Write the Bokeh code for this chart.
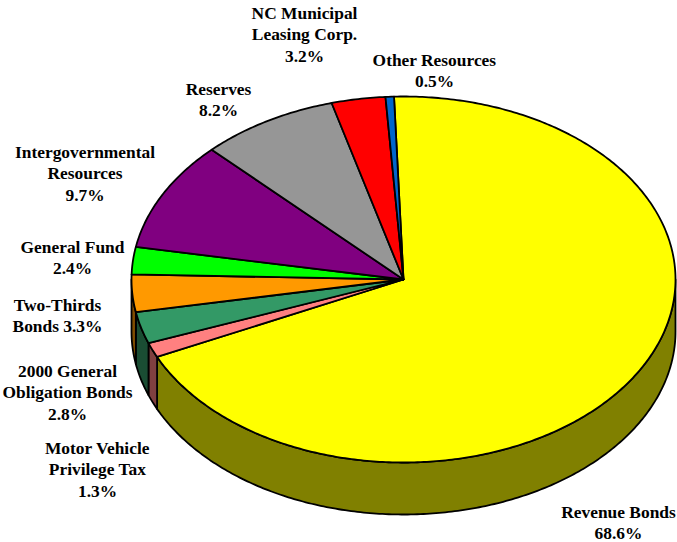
import numpy as np
from bokeh.plotting import figure
from bokeh.models import Range1d
from bokeh.core.properties import value
from bokeh.embed import file_html
from bokeh.resources import INLINE

categories = ["Revenue Bonds", "Motor Vehicle Privilege Tax", "2000 General Obligation Bonds",
              "Two-Thirds Bonds", "General Fund", "Intergovernmental Resources",
              "Reserves", "NC Municipal Leasing Corp.", "Other Resources"]
shares = [68.6, 1.3, 2.8, 3.3, 2.4, 9.7, 8.2, 3.2, 0.5]
top_colors = ["#FFFF00", "#FF8080", "#339966", "#FF9900", "#00FF00", "#800080", "#969696", "#FF0000", "#0066CC"]
side_colors = ["#808000", "#804040", "#1A4D33", "#804D00", "#008000", "#400040", "#4B4B4B", "#800000", "#003366"]

label_lines = [["Revenue Bonds", "68.6%"], ["Motor Vehicle", "Privilege Tax", "1.3%"],
               ["2000 General", "Obligation Bonds", "2.8%"], ["Two-Thirds", "Bonds 3.3%"],
               ["General Fund", "2.4%"], ["Intergovernmental", "Resources", "9.7%"],
               ["Reserves", "8.2%"], ["NC Municipal", "Leasing Corp.", "3.2%"],
               ["Other Resources", "0.5%"]]
label_x = [618, 97, 67, 57, 72, 84.5, 218, 304, 434]
label_y = [511, 447, 370, 304, 246, 151, 88, 12, 59]
LINE_H = 21.6

CX, CY, RX, RY, DEPTH = 403.0, 279.0, 272.0, 183.0, 52.0
START = -2.0

W, H = 677, 542
p = figure(width=W, height=H, output_backend="svg", toolbar_location=None,
           x_range=Range1d(0, W), y_range=Range1d(H, 0), margin=(0, 0, 0, 0),
           min_border=0, outline_line_color=None, background_fill_color="white", border_fill_color="white")
p.axis.visible = False
p.grid.visible = False


def arc(a0, a1):
    n = max(2, int(abs(a1 - a0) * 1.5) + 2)
    t = np.radians(np.linspace(a0, a1, n))
    return CX + RX * np.sin(t), CY - RY * np.cos(t)


edges = START + np.concatenate([[0], np.cumsum(shares)]) * 3.6 / (sum(shares) / 100)

# side walls: only the front half of the rim (clock angle 90..270) shows
sx, sy, sc = [], [], []
for i in range(len(shares)):
    a0, a1 = max(edges[i], 90.0), min(edges[i + 1], 270.0)
    if a1 <= a0:
        continue
    x, y = arc(a0, a1)
    sx.append(np.concatenate([x, x[::-1]]))
    sy.append(np.concatenate([y, y[::-1] + DEPTH]))
    sc.append(side_colors[i])
p.patches(sx, sy, fill_color=sc, line_color="black", line_width=1.8, line_join="round")

# top faces
tx, ty = [], []
for i in range(len(shares)):
    x, y = arc(edges[i], edges[i + 1])
    tx.append(np.concatenate([[CX], x]))
    ty.append(np.concatenate([[CY], y]))
p.patches(tx, ty, fill_color=top_colors, line_color="black", line_width=1.8, line_join="round")

xs, ys, txt = [], [], []
for lines, lx, ly in zip(label_lines, label_x, label_y):
    for j, s in enumerate(lines):
        xs.append(lx)
        ys.append(ly + j * LINE_H)
        txt.append(s)
p.text(xs, ys, text=txt, text_font=value("Liberation Serif"), text_font_style="bold",
       text_font_size="17.4px", text_align="center", text_baseline="middle", text_color="black")

open("out.html", "w").write(file_html(p, INLINE))
